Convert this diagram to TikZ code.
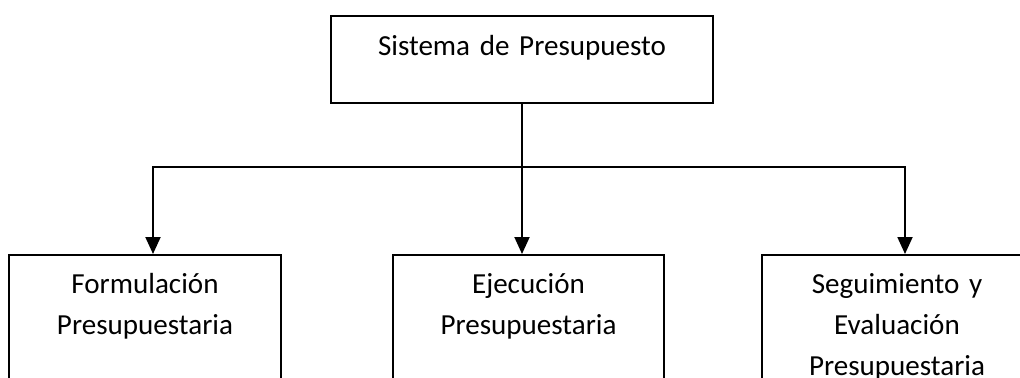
\documentclass[tikz,border=0pt]{standalone}
\usepackage{fontspec}
\setmainfont{Carlito}
\usetikzlibrary{arrows.meta, positioning}

\tikzset{
  box/.style={draw, line width=1.1pt, inner sep=0pt, align=center, anchor=north,
    font=\fontsize{16.55}{23.2}\selectfont},
  link/.style={line width=1.1pt},
  arrow/.style={link, -{Triangle[length=3.4mm, width=3mm]}}
}

\begin{document}
\begin{tikzpicture}[x=0.02cm, y=-0.02cm]
  % Page frame, the lower boxes run off its bottom edge
  \useasboundingbox (0,0) rectangle (1020,378);
  \clip (0,0) rectangle (1020,378);

  % Top box
  \node[box, text width=7.64cm, text height=8mm, text depth=9.4mm] (sistema) at (522,15) {Sistema de Presupuesto};

  % Lower boxes
  \node[box, text width=5.44cm, text height=7.8mm, text depth=20mm] (formulacion) at (145,254) {Formulación\\Presupuestaria};
  \node[box, text width=5.42cm, text height=7.8mm, text depth=20mm] (ejecucion) at (528.5,254) {Ejecución\\Presupuestaria};
  \node[box, text width=5.4cm, text height=7.8mm, text depth=20mm] (seguimiento) at (897,254) {Seguimiento y\\Evaluación\\Presupuestaria};

  % Connectors
  \coordinate (bus) at (522,167);
  \draw[link] (sistema.south) -- (bus);
  \draw[arrow] (bus) -| ([xshift=1.6mm]formulacion.north);
  \draw[arrow] (bus) -- (ejecucion.north -| bus);
  \draw[arrow] (bus) -| ([xshift=1.6mm]seguimiento.north);
\end{tikzpicture}
\end{document}
